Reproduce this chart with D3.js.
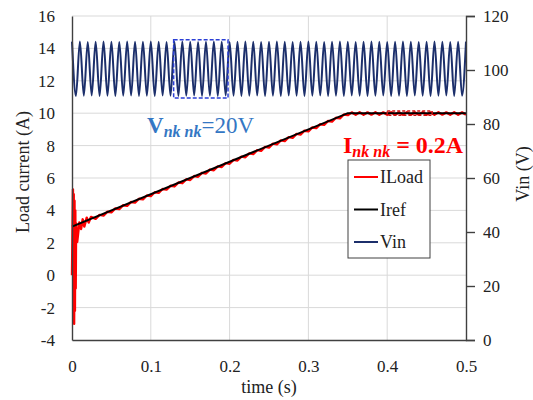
<!DOCTYPE html>
<html>
<head>
<meta charset="utf-8">
<script src="https://cdn.jsdelivr.net/npm/d3@7"></script>
<style>
  body { margin: 0; background: #fff; }
</style>
</head>
<body>
<div id="chart"></div>
<script>
// ticks
const timeTicks = [0, 0.1, 0.2, 0.3, 0.4, 0.5];
const currentTicks = [-4, -2, 0, 2, 4, 6, 8, 10, 12, 14, 16];
const vinTicks = [0, 20, 40, 60, 80, 100, 120];

// reference current (corners of the ramp)
const irefT = [0, 0.35, 0.5];
const irefV = [3, 10, 10];

// load current: start-up transient
const iLoadStartT = [0, 0.0012, 0.0017, 0.0022, 0.0027, 0.0032, 0.0037, 0.0042, 0.0047, 0.0052,
                     0.0066, 0.0093, 0.0115, 0.0136, 0.0156, 0.0187, 0.0212, 0.0241];
const iLoadStartV = [0, 5.3, -2.6, 5.0, -3.0, 4.6, -2.2, 4.0, -0.8, 3.2,
                     2.05, 3.25, 2.85, 3.45, 3.0, 3.55, 3.25, 3.6];

// load current after the transient, one sample every 5 ms from 0.03 s
const iLoadStep = 0.005, iLoadT0 = 0.03;
const iLoadRipple = [
  3.48, 3.72, 3.68, 3.92, 3.88, 4.12, 4.08, 4.32, 4.28, 4.52,
  4.48, 4.72, 4.68, 4.92, 4.88, 5.12, 5.08, 5.32, 5.28, 5.52,
  5.48, 5.72, 5.68, 5.92, 5.88, 6.12, 6.08, 6.32, 6.28, 6.52,
  6.48, 6.72, 6.68, 6.92, 6.88, 7.12, 7.08, 7.32, 7.28, 7.52,
  7.48, 7.72, 7.68, 7.92, 7.88, 8.12, 8.08, 8.32, 8.28, 8.52,
  8.48, 8.72, 8.68, 8.92, 8.88, 9.12, 9.08, 9.32, 9.28, 9.52,
  9.48, 9.72, 9.68, 9.92, 9.88,
  10.05, 9.9, 10.06, 9.9, 10.05, 9.91, 10.06, 9.9, 10.05, 9.9,
  10.06, 9.91, 10.05, 9.9, 10.06, 9.9, 10.05, 9.91, 10.06, 9.9,
  10.05, 9.9, 10.06, 9.91, 10.05, 9.9, 10.06, 9.9, 10.05, 9.9
];

// input voltage, peaks and troughs every 5 ms
const vinStep = 0.005;
const vinValues = [
  110.5, 90.4, 110.6, 90.5, 110.4, 90.6, 110.5, 90.4, 110.6, 90.5,
  110.5, 90.4, 110.4, 90.5, 110.6, 90.6, 110.5, 90.4, 110.5, 90.5,
  110.6, 90.4, 110.5, 90.6, 110.4, 90.5, 110.5, 90.4, 110.6, 90.5,
  110.5, 90.6, 110.4, 90.4, 110.5, 90.5, 110.6, 90.4, 110.5, 90.6,
  110.4, 90.5, 110.5, 90.4, 110.6, 90.5, 110.5, 90.6, 110.4, 90.4,
  110.5, 90.5, 110.6, 90.4, 110.5, 90.6, 110.4, 90.5, 110.5, 90.4,
  110.6, 90.5, 110.5, 90.6, 110.4, 90.4, 110.5, 90.5, 110.6, 90.4,
  110.5, 90.6, 110.4, 90.5, 110.5, 90.4, 110.6, 90.5, 110.5, 90.6,
  110.4, 90.4, 110.5, 90.5, 110.6, 90.4, 110.5, 90.6, 110.4, 90.5,
  110.5, 90.4, 110.6, 90.5, 110.5, 90.6, 110.4, 90.4, 110.5, 90.5,
  110.5
];

// highlighted regions [t0, t1, low, high]
const vinBox = [0.129, 0.198, 89.6, 111.2];
const iLoadBox = [0.4, 0.457, 9.87, 10.14];

const legendItems = [
  {name: "ILoad", color: "#ff0000"},
  {name: "Iref", color: "#000000"},
  {name: "Vin", color: "#1c2f6b"}
];

const serif = "'Liberation Serif', 'DejaVu Serif', serif";

const height = 400,
      width = 533,
      margin = ({top: 16, right: 67, bottom: 60, left: 72});

let svg = d3.select("#chart")
    .append("svg")
    .attr("width", width)
    .attr("height", height)
    .attr("font-family", serif);

let x = d3.scaleLinear()
    .domain([0, 0.5])
    .range([margin.left, width - margin.right]);

let y = d3.scaleLinear()
    .domain([-4, 16])
    .range([height - margin.bottom, margin.top]);

let yv = d3.scaleLinear()
    .domain([0, 120])
    .range([height - margin.bottom, margin.top]);

// grid
svg.append("g")
    .selectAll("line")
    .data(currentTicks.slice(1))
    .join("line")
    .attr("x1", x(0)).attr("x2", x(0.5))
    .attr("y1", d => y(d)).attr("y2", d => y(d))
    .attr("stroke", "#d9d9d9");

svg.append("g")
    .selectAll("line")
    .data(timeTicks.slice(1, -1))
    .join("line")
    .attr("x1", d => x(d)).attr("x2", d => x(d))
    .attr("y1", y(-4)).attr("y2", y(16))
    .attr("stroke", "#d9d9d9");

// series
const vinData = vinValues.map((v, i) => [i * vinStep, v]);
const iLoadData = iLoadStartT.map((t, i) => [t, iLoadStartV[i]])
    .concat(iLoadRipple.map((v, i) => [iLoadT0 + i * iLoadStep, v]));
const irefData = irefT.map((t, i) => [t, irefV[i]]);

const vinLine = d3.line()
    .x(d => x(d[0])).y(d => yv(d[1]))
    .curve(d3.curveMonotoneX);
const iLine = d3.line()
    .x(d => x(d[0])).y(d => y(d[1]));

svg.append("path")
    .attr("d", vinLine(vinData))
    .attr("fill", "none")
    .attr("stroke", "#1c2f6b")
    .attr("stroke-width", 2);

svg.append("path")
    .attr("d", iLine(iLoadData))
    .attr("fill", "none")
    .attr("stroke", "#ff0000")
    .attr("stroke-width", 2.4)
    .attr("stroke-linejoin", "round");

svg.append("path")
    .attr("d", iLine(irefData))
    .attr("fill", "none")
    .attr("stroke", "#000")
    .attr("stroke-width", 2);

// dashed boxes
svg.append("rect")
    .attr("x", x(vinBox[0])).attr("width", x(vinBox[1]) - x(vinBox[0]))
    .attr("y", yv(vinBox[3])).attr("height", yv(vinBox[2]) - yv(vinBox[3]))
    .attr("fill", "none")
    .attr("stroke", "#2b3fd6")
    .attr("stroke-width", 1.5)
    .attr("stroke-dasharray", "4,2");

svg.append("rect")
    .attr("x", x(iLoadBox[0])).attr("width", x(iLoadBox[1]) - x(iLoadBox[0]))
    .attr("y", y(iLoadBox[3])).attr("height", y(iLoadBox[2]) - y(iLoadBox[3]))
    .attr("fill", "none")
    .attr("stroke", "#d01010")
    .attr("stroke-width", 1.5)
    .attr("stroke-dasharray", "3,2");

// axes
const xAxis = g => g
    .attr("transform", `translate(0, ${y(-4)})`)
    .call(d3.axisBottom(x).tickValues(timeTicks).tickFormat(d => String(d)).tickSize(0).tickPadding(20));

const yAxis = g => g
    .attr("transform", `translate(${x(0)},0)`)
    .call(d3.axisLeft(y).tickValues(currentTicks).tickFormat(d => String(d)).tickSize(0).tickPadding(17));

const yvAxis = g => g
    .attr("transform", `translate(${x(0.5)},0)`)
    .call(d3.axisRight(yv).tickValues(vinTicks).tickFormat(d => String(d)).tickSize(9).tickPadding(8));

[xAxis, yAxis, yvAxis].forEach(a => {
    let g = svg.append("g").call(a).attr("font-family", serif).attr("font-size", 17);
    g.selectAll("text").attr("fill", "#222");
    g.selectAll("path, line").attr("stroke", "#404040").attr("stroke-width", 1.4);
});

// axis titles
svg.append("text")
    .attr("transform", `translate(29, 172) rotate(-90)`)
    .attr("text-anchor", "middle")
    .attr("font-size", 18).attr("fill", "#222")
    .text("Load current (A)");

svg.append("text")
    .attr("transform", `translate(529, 174) rotate(-90)`)
    .attr("text-anchor", "middle")
    .attr("font-size", 18).attr("fill", "#222")
    .text("Vin (V)");

svg.append("text")
    .attr("x", (x(0) + x(0.5)) / 2).attr("y", 393)
    .attr("text-anchor", "middle")
    .attr("font-size", 18).attr("fill", "#222")
    .text("time (s)");

// annotations
let vNote = svg.append("text")
    .attr("x", 147).attr("y", 133)
    .attr("fill", "#3477c4")
    .attr("font-size", 23);
vNote.append("tspan").attr("font-weight", "bold").text("V");
vNote.append("tspan").attr("font-weight", "bold").attr("font-style", "italic")
    .attr("font-size", 16).attr("dy", 4).text("nk nk");
vNote.append("tspan").attr("dy", -4).text("=20V");

let iNote = svg.append("text")
    .attr("x", 343).attr("y", 153)
    .attr("fill", "#ff0000")
    .attr("font-size", 24)
    .attr("font-weight", "bold");
iNote.append("tspan").text("I");
iNote.append("tspan").attr("font-style", "italic")
    .attr("font-size", 16).attr("dy", 4).text("nk nk");
iNote.append("tspan").attr("dy", -4).text(" = 0.2A");

// legend
let legend = svg.append("g").attr("transform", "translate(348,160)");
legend.append("rect")
    .attr("width", 82).attr("height", 98)
    .attr("fill", "#fff")
    .attr("stroke", "#404040");

let item = legend.selectAll(".item")
    .data(legendItems)
    .join("g")
    .attr("class", "item")
    .attr("transform", (d, i) => `translate(0, ${17 + i * 32.5})`);

item.append("line")
    .attr("x1", 6).attr("x2", 30)
    .attr("stroke", d => d.color)
    .attr("stroke-width", 2);

item.append("text")
    .attr("x", 32).attr("dy", "0.35em")
    .attr("font-size", 18).attr("fill", "#222")
    .text(d => d.name);
</script>
</body>
</html>
